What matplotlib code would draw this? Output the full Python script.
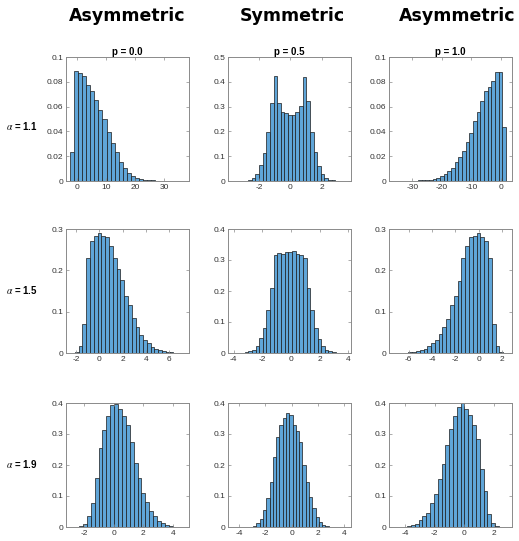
import numpy as np
import matplotlib.pyplot as plt
from matplotlib.ticker import FormatStrFormatter

plt.rcParams['axes.unicode_minus'] = False
plt.rcParams['mathtext.fontset'] = 'stix'

# histogram heights (probability density), left to right
# alpha = 1.1
a11_p00 = [0.0236, 0.0885, 0.0874, 0.0847, 0.0777, 0.0727, 0.0657, 0.0576, 0.0496, 0.0397,
           0.0308, 0.0236, 0.0155, 0.0107, 0.0062, 0.0040, 0.0024, 0.0016, 0.0010, 0.0007,
           0.0005, 0.0004, 0.0003, 0.0002, 0.0002, 0.0001, 0.0001, 0.0001, 0.0001]
a11_p05 = [0.0005, 0.001, 0.002, 0.004, 0.012, 0.027, 0.063, 0.113, 0.197, 0.313,
           0.424, 0.313, 0.277, 0.273, 0.265, 0.265, 0.277, 0.304, 0.420, 0.324,
           0.196, 0.116, 0.060, 0.029, 0.013, 0.006, 0.003, 0.0015, 0.001, 0.0005]
a11_p10 = [0.0001, 0.0001, 0.0001, 0.0002, 0.0002, 0.0003, 0.0004, 0.0005, 0.0006, 0.0008,
           0.0012, 0.0018, 0.0027, 0.0040, 0.0056, 0.0083, 0.0104, 0.0155, 0.0190, 0.0243,
           0.0317, 0.0384, 0.0483, 0.0557, 0.0648, 0.0728, 0.0757, 0.0803, 0.0877, 0.0877,
           0.0435]
# alpha = 1.5
a15_p00 = [0.001, 0.003, 0.016, 0.069, 0.230, 0.270, 0.282, 0.290, 0.282, 0.280,
           0.260, 0.230, 0.203, 0.176, 0.137, 0.115, 0.084, 0.062, 0.044, 0.032,
           0.023, 0.015, 0.010, 0.0065, 0.004, 0.0025, 0.0015, 0.001, 0.0007, 0.0005]
a15_p05 = [0.0005, 0.001, 0.002, 0.005, 0.010, 0.022, 0.048, 0.080, 0.140, 0.210,
           0.315, 0.324, 0.318, 0.325, 0.325, 0.328, 0.320, 0.316, 0.305, 0.210,
           0.140, 0.080, 0.046, 0.022, 0.010, 0.005, 0.002, 0.001, 0.0005]
a15_p10 = [0.0005, 0.0007, 0.001, 0.0015, 0.0025, 0.004, 0.0065, 0.010, 0.017, 0.024,
           0.032, 0.045, 0.062, 0.083, 0.115, 0.137, 0.175, 0.230, 0.260, 0.280,
           0.283, 0.290, 0.280, 0.270, 0.230, 0.069, 0.016, 0.003, 0.001]
# alpha = 1.9
a19_p00 = [0.0005, 0.001, 0.003, 0.009, 0.034, 0.076, 0.158, 0.255, 0.313, 0.357,
           0.392, 0.398, 0.382, 0.357, 0.330, 0.273, 0.205, 0.157, 0.111, 0.081,
           0.052, 0.034, 0.020, 0.013, 0.006, 0.003, 0.001, 0.0005]
a19_p05 = [0.0005, 0.001, 0.004, 0.012, 0.025, 0.055, 0.093, 0.145, 0.225, 0.290,
           0.330, 0.352, 0.368, 0.362, 0.328, 0.310, 0.275, 0.200, 0.145, 0.097,
           0.062, 0.033, 0.015, 0.008, 0.003, 0.001, 0.0005]
a19_p10 = [0.0005, 0.001, 0.003, 0.006, 0.011, 0.022, 0.034, 0.046, 0.076, 0.106,
           0.155, 0.203, 0.263, 0.317, 0.357, 0.387, 0.400, 0.382, 0.360, 0.330,
           0.284, 0.187, 0.117, 0.043, 0.014, 0.004]

# first bin edge and bin width of each histogram
bins_a11 = [(-2.30, 1.385), (-3.41, 0.233), (1.70 - 31 * 1.24, 1.24)]
bins_a15 = [(-2.43, 0.325), (-3.75, 0.255), (2.43 - 29 * 0.325, 0.325)]
bins_a19 = [(-2.89, 0.265), (-3.44, 0.25), (2.36 - 26 * 0.26, 0.26)]

xlims = [[(-3.8, 38.6), (-4.0, 3.88), (-37.9, 3.75)],
         [(-2.87, 7.68), (-4.4, 4.2), (-7.68, 2.87)],
         [(-3.25, 5.11), (-4.85, 4.5), (-5.11, 3.25)]]
xticks = [[[0, 10, 20, 30], [-2, 0, 2], [-30, -20, -10, 0]],
          [[-2, 0, 2, 4, 6], [-4, -2, 0, 2, 4], [-6, -4, -2, 0, 2]],
          [[-2, 0, 2, 4], [-4, -2, 0, 2, 4], [-4, -2, 0, 2]]]
ytops = [[0.1, 0.5, 0.1], [0.3, 0.4, 0.3], [0.4, 0.4, 0.4]]
ysteps = [[0.02, 0.1, 0.02], [0.1, 0.1, 0.1], [0.1, 0.1, 0.1]]

col_titles = ['Asymmetric', 'Symmetric', 'Asymmetric']
p_labels = ['p = 0.0', 'p = 0.5', 'p = 1.0']
alpha_labels = ['1.1', '1.5', '1.9']

heights = [[a11_p00, a11_p05, a11_p10],
           [a15_p00, a15_p05, a15_p10],
           [a19_p00, a19_p05, a19_p10]]
bins = [bins_a11, bins_a15, bins_a19]

W, H = 519, 541
fig = plt.figure(figsize=(W / 100, H / 100), dpi=100)

col_left = [66, 228, 389]
row_top = [57, 229, 403]
ax_w, ax_h = 123, 124
frame = '#8a8a8a'

for r in range(3):
    for c in range(3):
        ax = fig.add_axes([col_left[c] / W, 1 - (row_top[r] + ax_h) / H, ax_w / W, ax_h / H])
        h = np.array(heights[r][c])
        start, width = bins[r][c]
        edges = start + width * np.arange(len(h) + 1)
        ax.bar(edges[:-1], h, width=width, align='edge', color='#5fa5d8',
               edgecolor='#1a1a1a', linewidth=0.5)
        ax.set_xlim(xlims[r][c])
        ax.set_ylim(0, ytops[r][c])
        ax.set_xticks(xticks[r][c])
        ax.set_yticks(np.arange(0, ytops[r][c] + 1e-9, ysteps[r][c]))
        ax.yaxis.set_major_formatter(FormatStrFormatter('%g'))
        ax.tick_params(direction='in', top=True, right=True, length=2.5, width=0.5,
                       colors=frame, labelcolor='#333333', labelsize=6, pad=2)
        for lab in ax.get_xticklabels() + ax.get_yticklabels():
            lab.set_family('Liberation Sans')
        for s in ax.spines.values():
            s.set_color(frame)
            s.set_linewidth(0.7)
        if r == 0:
            ax.set_title(p_labels[c], fontsize=7, fontweight='bold',
                         family='Liberation Sans', pad=1.5)

# column headers
for c, t in enumerate(col_titles):
    cx = (col_left[c] + ax_w / 2 + [0, 3, 7][c]) / W
    fig.text(cx, 1 - 16 / H, t, ha='center', va='center', fontsize=12.5,
             fontweight='bold', family='DejaVu Sans')

# row labels
for r, a in enumerate(alpha_labels):
    cy = [126, 290, 464][r]
    fig.text(22 / W, 1 - cy / H, r'$\alpha$' + ' = ' + a, ha='center', va='center',
             fontsize=7, fontweight='bold', family='Liberation Sans')

fig.savefig('out.png', dpi=100)
